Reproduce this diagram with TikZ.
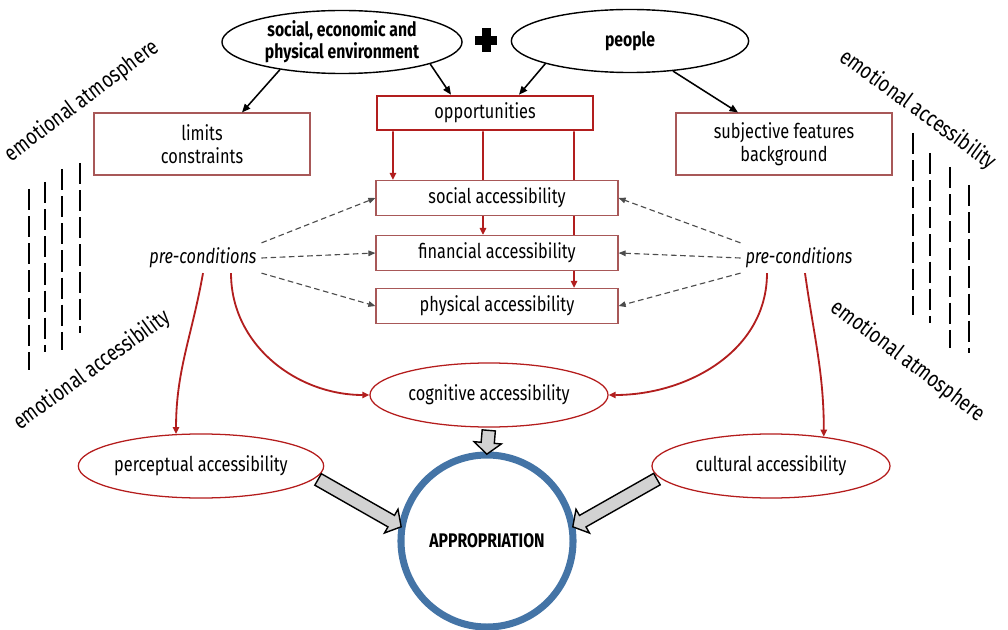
\documentclass[tikz,border=0pt]{standalone}
\usepackage{fontspec}
\setmainfont[FakeStretch=0.8]{Fira Sans}
\usetikzlibrary{arrows.meta,shapes.geometric,shapes.arrows,calc}
\definecolor{oppred}{RGB}{178,30,30}
\definecolor{boxred}{RGB}{168,88,88}
\definecolor{ellred}{RGB}{180,28,28}
\definecolor{apblue}{RGB}{68,116,166}
\newcommand{\blockarrow}[3]{\path let \p1=($(#3)-(#2)$), \n1={atan2(\y1,\x1)}, \n2={veclen(\x1,\y1)} in node[grayarrow,minimum height=\n2,rotate=\n1] (#1) at ($(#2)!0.5!(#3)$) {};}

\begin{document}
\begin{tikzpicture}[x=0.025cm,y=0.025cm,font=\fontsize{14.5}{16}\selectfont,
  thinbox/.style={draw=boxred,line width=0.8pt,minimum width=5.4cm,minimum height=1.55cm,align=center,inner sep=0pt},
  accbox/.style={draw=boxred,line width=0.8pt,minimum width=6.05cm,minimum height=0.875cm,inner sep=0pt},
  topell/.style={ellipse,draw=black,line width=1pt,minimum width=6cm,minimum height=1.575cm,inner sep=0pt,align=center,font=\fontsize{14}{15.5}\selectfont\bfseries},
  accell/.style={ellipse,draw=ellred,line width=0.9pt,minimum width=5.95cm,minimum height=1.6cm,inner sep=0pt},
  precond/.style={font=\fontsize{14.5}{16}\selectfont\itshape},
  blackarr/.style={-{Triangle[length=6pt,width=5pt]},line width=1.1pt},
  redarr/.style={-{Triangle[length=5pt,width=4.5pt]},draw=oppred,line width=1.3pt},
  dasharr/.style={-{Triangle[length=5pt,width=4pt]},draw=black!70,dash pattern=on 4pt off 2.5pt,line width=0.8pt},
  emolabel/.style={font=\fontsize{16}{18}\selectfont},
  emodash/.style={line width=2.1pt,dash pattern=on 15pt off 4.3pt},
  grayarrow/.style={single arrow,draw=black,line width=1pt,fill=gray!35,inner xsep=0pt,inner ysep=4.2pt,single arrow head extend=5pt,single arrow tip angle=100}]
\useasboundingbox (0,0) rectangle (1008,-630);
\node[topell] (env) at (342,-42) {social, economic and\\physical environment};
\node[topell,minimum width=5.93cm] (people) at (630,-41) {people};
\fill (475,-36) rectangle (497,-45);
\fill (482,-28) rectangle (491,-52);
\node[thinbox] (limits) at (202,-144) {limits\\constraints};
\node[thinbox,draw=oppred,line width=1.8pt,minimum height=0.85cm] (opp) at (485,-113) {opportunities};
\node[thinbox] (subj) at (784,-144) {subjective features\\background};
\node[accbox] (soc) at (497,-198) {social accessibility};
\node[accbox] (fin) at (497,-253) {financial accessibility};
\node[accbox] (phys) at (497,-306) {physical accessibility};
\node[precond] (preL) at (203,-258) {pre-conditions};
\node[precond] (preR) at (799,-258) {pre-conditions};
\node[accell] (cog) at (489,-395) {cognitive accessibility};
\node[accell] (perc) at (201,-466) {perceptual accessibility};
\node[accell] (cult) at (771,-466) {cultural accessibility};
\node[circle,draw=apblue,line width=5pt,minimum size=4.3cm,inner sep=0pt,font=\fontsize{14}{16}\selectfont\bfseries] (appr) at (487,-541) {APPROPRIATION};
\draw[blackarr] (env.204) -- ([xshift=1cm]limits.north);
\draw[blackarr] (env.-14) -- ([xshift=-0.85cm]opp.north);
\draw[blackarr] (people.195) -- ([xshift=0.85cm]opp.north);
\draw[blackarr] (people.-35) -- ([xshift=-1.15cm]subj.north);
\draw[redarr] ([xshift=-2.3cm]opp.south) -- ([xshift=-2.6cm]soc.north);
\draw[oppred,line width=1.3pt] ([xshift=-0.05cm]opp.south) -- ([xshift=-0.35cm]soc.north);
\draw[redarr] ([xshift=-0.35cm]soc.south) -- ([xshift=-0.35cm]fin.north);
\draw[oppred,line width=1.3pt] ([xshift=2.225cm]opp.south) -- ([xshift=1.925cm]soc.north);
\draw[oppred,line width=1.3pt] ([xshift=1.925cm]soc.south) -- ([xshift=1.925cm]fin.north);
\draw[redarr] ([xshift=1.925cm]fin.south) -- ([xshift=1.925cm]phys.north);
\draw[dasharr] (preL.north east) -- (soc.west);
\draw[dasharr] (preL.east) -- (fin.west);
\draw[dasharr] (preL.south east) -- (phys.west);
\draw[dasharr] (preR.north west) -- (soc.east);
\draw[dasharr] (preR.west) -- (fin.east);
\draw[dasharr] (preR.south west) -- (phys.east);
\draw[redarr] (preL.south) to[out=-100,in=90] (perc.128);
\draw[redarr] ([xshift=0.7cm]preL.south) to[out=-90,in=180] (cog.west);
\draw[redarr] ([xshift=-0.8cm]preR.south) to[out=-90,in=0] (cog.east);
\draw[redarr] ([xshift=0.15cm]preR.south) to[out=-82,in=90] (cult.29);
\blockarrow{gaC}{cog.south}{appr.north}
\blockarrow{gaP}{perc.-6}{appr.170}
\blockarrow{gaU}{cult.186}{appr.10}
\node[emolabel,rotate=37] (emoTL) at (82,-101) {emotional atmosphere};
\node[emolabel,rotate=-36] (emoTR) at (918,-110) {emotional accessibility};
\node[emolabel,rotate=36] (emoBL) at (92,-370) {emotional accessibility};
\node[emolabel,rotate=-37] (emoBR) at (908,-361) {emotional atmosphere};
\draw[emodash] (29,-189) -- (29,-370);
\draw[emodash] (45,-182) -- (45,-352);
\draw[emodash] (62,-169) -- (62,-350);
\draw[emodash] (80,-163) -- (80,-333);
\draw[emodash] (913,-133) -- (913,-315);
\draw[emodash] (930,-153) -- (930,-323);
\draw[emodash] (950,-167) -- (950,-348);
\draw[emodash] (969,-185) -- (969,-353);
\end{tikzpicture}
\end{document}
